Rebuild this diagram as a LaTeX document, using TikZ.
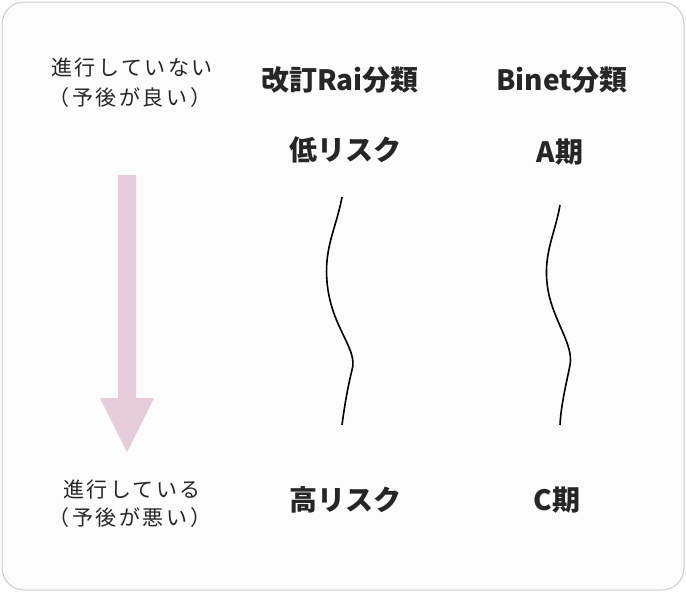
\documentclass[tikz,border=0pt]{standalone}
\usepackage{fontspec}
\setmainfont{Noto Sans CJK JP}
\newfontfamily\spaced[LetterSpace=12]{Noto Sans CJK JP}
\definecolor{arrowpink}{HTML}{E6CCD8}
\begin{document}
\begin{tikzpicture}[x=1pt,y=-1pt,
  small/.style={font=\spaced\fontsize{21}{24}\selectfont,text=black!85},
  head/.style={font=\fontsize{28}{32}\selectfont\bfseries,text=black!85},
  wave/.style={line width=1.6pt,black}]
\useasboundingbox (0,0) rectangle (686,592);
\draw[rounded corners=22pt,draw=black!20,fill=black!1,line width=1pt] (2,2) rectangle (684,590);
\node[small] (t1) at (132,68) {進行していない};
\node[small] (t2) at (130,98) {（予後が良い）};
\node[small] (b1) at (132,490) {進行している};
\node[small] (b2) at (130,518) {（予後が悪い）};
\node[head] (rai) at (340,80) {改訂Rai分類};
\node[head] (binet) at (562,80) {Binet分類};
\node[head] (low) at (345,150) {低リスク};
\node[head] (a) at (560,152) {A期};
\node[head] (high) at (345,500) {高リスク};
\node[head] (c) at (557,500) {C期};
\fill[arrowpink] (118,175) -- (136,175) -- (136,398) -- (154,398) -- (127,452) -- (100,398) -- (118,398) -- cycle;
\coordinate (l1) at (342,197); \coordinate (l2) at (342,425);
\coordinate (r1) at (560,205); \coordinate (r2) at (560,425);
\draw[wave] (l1) .. controls (336,230) and (322,250) .. (328,290) .. controls (334,330) and (358,350) .. (352,370) .. controls (347,390) and (344,410) .. (l2);
\draw[wave] (r1) .. controls (555,235) and (542,255) .. (548,290) .. controls (553,320) and (574,345) .. (570,365) .. controls (566,385) and (561,405) .. (r2);
\end{tikzpicture}
\end{document}
